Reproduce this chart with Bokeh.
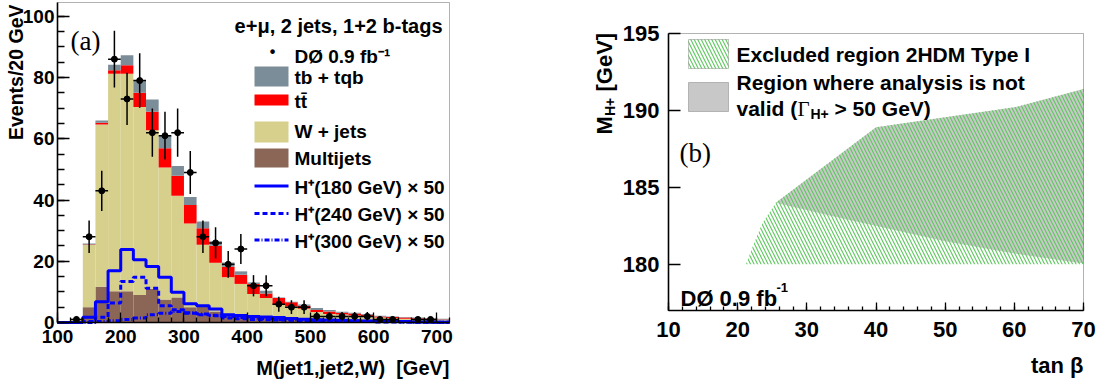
import numpy as np
from math import pi
from bokeh.plotting import figure
from bokeh.layouts import row
from bokeh.models import Label, BoxAnnotation, Arrow, SingleIntervalTicker, Range1d
from bokeh.embed import file_html
from bokeh.resources import INLINE

# ---------------- Panel (a) data ----------------
bin_edges = list(range(100, 740, 20))          # 100 ... 720 GeV, 20 GeV bins
multijets = [0, 0.5, 5.0, 11.7, 10.2, 10.2, 9.0, 11.0, 7.5, 8.2, 5.0, 5.5, 3.6, 2.5, 2.5, 2.0,
             1.8, 1.5, 1.2, 1.0, 0.8, 0.7, 0.6, 0.5, 0.4, 0.3, 0.3, 0.2, 0.2, 0.2, 0.1]
wjets = [0, 0.5, 20.3, 53.0, 71.0, 71.0, 61.4, 51.8, 43.1, 33.2, 27.3, 19.9, 15.9, 12.3, 10.1, 7.3,
         6.2, 4.4, 4.0, 3.5, 2.6, 2.1, 2.0, 1.8, 1.6, 1.3, 1.1, 1.0, 0.8, 0.7, 0.7]
ttbar = [0, 0, 0.2, 0.5, 1.2, 2.8, 4.6, 6.0, 6.3, 6.5, 6.1, 5.4, 5.6, 3.4, 3.0, 3.3,
         1.5, 2.1, 1.4, 1.0, 0.7, 0.8, 0.6, 0.6, 0.5, 0.4, 0.4, 0.4, 0.4, 0.3, 0.2]
tb_tqb = [0, 0.1, 0.3, 0.8, 1.8, 3.3, 4.0, 4.0, 4.0, 3.2, 2.6, 2.2, 1.4, 1.4, 1.1, 0.5,
          0.9, 0.2, 0.2, 0.4, 0.6, 0.5, 0.3, 0.3, 0.3, 0.2, 0.2, 0.2, 0.2, 0.2, 0.2]
data_counts = [0, 1, 28, 43, 86, 73, 79, 62, 61, 62, 49, 28, 26, 19, 24, 12,
               12, 6, 5, 5, 2, 2, 2, 2, 2, 1, 1, 0, 1, 1, 0]
hplus_180 = [0, 0, 1.7, 6.8, 16.9, 23.8, 20.5, 18.3, 14.8, 9.9, 6.1, 5.5, 4.4, 2.5, 2.3, 2.0,
             1.8, 1.6, 1.3, 1.1, 0.9, 0.8, 0.7, 0.6, 0.5, 0.4, 0.3, 0.3, 0.2, 0.2, 0.1]
hplus_240 = [0, 0, 0.3, 1.7, 6.4, 13.4, 14.8, 11.2, 5.5, 4.2, 3.0, 2.5, 2.2, 1.5, 1.2, 1.0,
             0.9, 0.8, 0.7, 0.6, 0.5, 0.4, 0.4, 0.3, 0.3, 0.2, 0.2, 0.2, 0.1, 0.1, 0.1]
hplus_300 = [0, 0, 0, 0.3, 0.6, 1.0, 1.5, 2.5, 3.0, 3.6, 3.2, 2.8, 2.4, 2.0, 1.6, 1.4,
             1.2, 1.0, 0.9, 0.8, 0.7, 0.6, 0.5, 0.5, 0.4, 0.3, 0.3, 0.2, 0.2, 0.2, 0.1]

# ---------------- Panel (b) data ----------------
excl_tanb = [21.2, 22.3, 23.6, 25.5, 40, 60, 70, 70]
excl_mh = [180.0, 181.3, 182.7, 184.0, 188.9, 190.2, 191.4, 180.0]
inval_tanb = [25.5, 40, 60, 70, 70, 60, 50, 35]
inval_mh = [184.0, 188.9, 190.2, 191.4, 180.05, 180.7, 181.5, 183.0]

C_TB = "#7b8d98"
C_TT = "#ff0000"
C_W = "#d6d08c"
C_MJ = "#8b6656"
C_H = "#0000ff"
C_HATCH = "#5cc85c"
C_GRAY = "#c8c8c8"
SANS = "Liberation Sans"
SERIF = "Liberation Serif"


def lin(va, pa, vb, pb, px):
    """value at page pixel px for a linear axis with va at pa and vb at pb"""
    return va + (px - pa) * (vb - va) / (pb - pa)


def style_axes(p, size):
    for ax in (p.xaxis[0], p.yaxis[0]):
        ax.major_label_text_font = SANS
        ax.major_label_text_font_style = "bold"
        ax.major_label_text_font_size = size
        ax.major_label_text_color = "black"
        ax.axis_line_color = "black"
        ax.axis_line_width = 1.6
        ax.major_tick_line_color = "black"
        ax.minor_tick_line_color = "black"
        ax.major_tick_line_width = 1.3
        ax.minor_tick_line_width = 1.3
        ax.major_tick_out = 0
        ax.minor_tick_out = 0
    p.xgrid.visible = False
    p.ygrid.visible = False
    p.outline_line_color = None
    p.background_fill_color = "white"
    p.border_fill_color = "white"


def make_label(p, FL, FB, X, Y, text, size, font=SANS, style="bold", align="left",
               baseline="middle", angle=0.0):
    p.add_layout(Label(x=X - FL, y=FB - Y, x_units="screen", y_units="screen", text=text,
                       text_font=font, text_font_size=f"{size}px", text_font_style=style,
                       text_align=align, text_baseline=baseline, angle=angle,
                       text_color="black"))


def make_box(p, FL, FB, X0, X1, Y0, Y1, **kw):
    p.add_layout(BoxAnnotation(left=X0 - FL, right=X1 - FL, top=FB - Y0, bottom=FB - Y1,
                               left_units="screen", right_units="screen",
                               top_units="screen", bottom_units="screen", **kw))


def make_line(p, FL, FB, X0, X1, Y, dash):
    p.add_layout(Arrow(x_start=X0 - FL, y_start=FB - Y, x_end=X1 - FL, y_end=FB - Y,
                       start_units="screen", end_units="screen", start=None, end=None,
                       line_color=C_H, line_width=3, line_dash=dash))


# ================= Panel (a) =================
# frame covers page x 0..468, y 1..381 ; axes drawn at fixed locations
FL1, FR1, FT1, FB1 = 0, 468, 1, 381
xr1 = Range1d(lin(100, 65, 720, 457, FL1), lin(100, 65, 720, 457, FR1))
yr1 = Range1d(lin(0, 322, 104.5, 2, FB1), lin(0, 322, 104.5, 2, FT1))
p1 = figure(width=470, height=381, output_backend="svg", toolbar_location=None,
            x_range=xr1, y_range=yr1,
            min_border_left=FL1, min_border_right=470 - FR1, min_border_top=FT1,
            min_border_bottom=381 - FB1)
style_axes(p1, "19px")
p1.xaxis.ticker = SingleIntervalTicker(interval=100, num_minor_ticks=5)
p1.yaxis.ticker = SingleIntervalTicker(interval=20, num_minor_ticks=4)
p1.xaxis.fixed_location = 0
p1.yaxis.fixed_location = 100
p1.xaxis.bounds = (100, 720)
p1.yaxis.bounds = (0, 104.5)
p1.yaxis.major_tick_in = 12
p1.yaxis.minor_tick_in = 7
p1.xaxis.major_tick_in = 10
p1.xaxis.minor_tick_in = 5
p1.yaxis.major_label_standoff = 3
p1.xaxis.major_label_standoff = 7

edges = np.array(bin_edges, dtype=float)
lo, hi = edges[:-1], edges[1:]
centers = 0.5 * (lo + hi)
c1 = np.array(multijets)
c2 = c1 + np.array(wjets)
c3 = c2 + np.array(ttbar)
c4 = c3 + np.array(tb_tqb)
zero = np.zeros_like(c1)
p1.quad(left=lo, right=hi, bottom=zero, top=c1, fill_color=C_MJ, line_color=None)
p1.quad(left=lo, right=hi, bottom=c1, top=c2, fill_color=C_W, line_color=None)
p1.quad(left=lo, right=hi, bottom=c2, top=c3, fill_color=C_TT, line_color=None)
p1.quad(left=lo, right=hi, bottom=c3, top=c4, fill_color=C_TB, line_color=None)

for vals, dash in ((hplus_300, "5 2 1 2"), (hplus_240, "5 3"), (hplus_180, "solid")):
    p1.step(x=edges, y=list(vals) + [vals[-1]], mode="after", line_color=C_H,
            line_width=3, line_dash=dash)

cnt = np.array(data_counts, dtype=float)
m = cnt > 0
xs, ys = centers[m], cnt[m]
err = np.sqrt(ys)
p1.segment(x0=xs, y0=ys - err, x1=xs, y1=ys + err, line_color="black", line_width=1.5)
p1.segment(x0=lo[m], y0=ys, x1=hi[m], y1=ys, line_color="black", line_width=1.5)
p1.scatter(xs, ys, size=6, color="black")

# plot box of panel (a)
p1.add_layout(BoxAnnotation(left=100, right=720, bottom=0, top=104.5, fill_alpha=0,
                            line_color="black", line_width=1))

# axis titles and texts
make_label(p1, FL1, FB1, 23, 4, "Events/20 GeV", 19.5, align="right", baseline="alphabetic", angle=pi / 2)
make_label(p1, FL1, FB1, 457, 367, "M(jet1,jet2,W) \u00a0[GeV]", 20, align="right", baseline="alphabetic")
make_label(p1, FL1, FB1, 78, 40, "(a)", 27, font=SERIF, style="normal", baseline="alphabetic")
make_label(p1, FL1, FB1, 450, 25, "e+\u03bc, 2 jets, 1+2 b-tags", 20, align="right", baseline="alphabetic")

# legend
make_label(p1, FL1, FB1, 280, 51, "\u2022", 16, align="center")
make_label(p1, FL1, FB1, 302, 56, "D\u00d8 0.9 fb\u207b\u00b9", 19)
make_box(p1, FL1, FB1, 262, 296, 66, 86, fill_color=C_TB, fill_alpha=1, line_color=None)
make_label(p1, FL1, FB1, 302, 77, "tb + tqb", 19)
make_box(p1, FL1, FB1, 262, 296, 94, 105, fill_color=C_TT, fill_alpha=1, line_color=None)
make_label(p1, FL1, FB1, 302, 101, "tt\u0304", 19)
make_box(p1, FL1, FB1, 262, 296, 121, 142, fill_color=C_W, fill_alpha=1, line_color=None)
make_label(p1, FL1, FB1, 302, 131, "W + jets", 19)
make_box(p1, FL1, FB1, 262, 296, 148, 167, fill_color=C_MJ, fill_alpha=1, line_color=None)
make_label(p1, FL1, FB1, 302, 157.5, "Multijets", 19)
make_line(p1, FL1, FB1, 262, 296, 185.5, "solid")
make_label(p1, FL1, FB1, 302, 187, "H\u207a(180 GeV) \u00d7 50", 19)
make_line(p1, FL1, FB1, 262, 296, 213, "5 3")
make_label(p1, FL1, FB1, 302, 214, "H\u207a(240 GeV) \u00d7 50", 19)
make_line(p1, FL1, FB1, 262, 296, 239.5, "5 2 1 2")
make_label(p1, FL1, FB1, 302, 241, "H\u207a(300 GeV) \u00d7 50", 19)

# ================= Panel (b) =================
# canvas starts at page x 470; frame covers page x 585..1109, y 1..381
P2X = 470
FL2, FR2, FT2, FB2 = 585, 1109, 1, 381
xr2 = Range1d(lin(10, 676, 70, 1091, FL2), lin(10, 676, 70, 1091, FR2))
yr2 = Range1d(lin(177, 310, 195, 33, FB2), lin(177, 310, 195, 33, FT2))
p2 = figure(width=639, height=381, output_backend="svg", toolbar_location=None,
            x_range=xr2, y_range=yr2,
            min_border_left=FL2 - P2X, min_border_right=P2X + 639 - FR2, min_border_top=FT2,
            min_border_bottom=381 - FB2)
style_axes(p2, "22px")
p2.xaxis.ticker = SingleIntervalTicker(interval=10, num_minor_ticks=5)
p2.yaxis.ticker = SingleIntervalTicker(interval=5, num_minor_ticks=0)
p2.xaxis.fixed_location = 177
p2.yaxis.fixed_location = 10
p2.xaxis.bounds = (10, 70)
p2.yaxis.bounds = (177, 195)
p2.yaxis.major_tick_in = 12
p2.yaxis.minor_tick_in = 0
p2.xaxis.major_tick_in = 8
p2.xaxis.minor_tick_in = 4
p2.yaxis.major_label_standoff = 9
p2.xaxis.major_label_standoff = 11

p2.patch(inval_tanb, inval_mh, fill_color=C_GRAY, line_color=None)
p2.patch(excl_tanb, excl_mh, fill_color="white", fill_alpha=0, line_color=None,
         hatch_pattern="\\", hatch_color=C_HATCH, hatch_scale=7, hatch_weight=1.1)
p2.add_layout(BoxAnnotation(left=10, right=70, bottom=177, top=195, fill_alpha=0,
                            line_color="black", line_width=1))

make_box(p2, FL2, FB2, 696, 736, 39, 68, fill_color="white", fill_alpha=1, line_color="#444444",
         line_width=1, hatch_pattern="\\", hatch_color=C_HATCH, hatch_scale=7, hatch_weight=1.1)
make_box(p2, FL2, FB2, 696, 736, 82, 111, fill_color=C_GRAY, fill_alpha=1, line_color="#444444",
         line_width=1)
make_label(p2, FL2, FB2, 744, 54, "Excluded region 2HDM Type I", 21)
make_label(p2, FL2, FB2, 744, 82, "Region where analysis is not", 21)
make_label(p2, FL2, FB2, 744, 108, "valid (", 21)
make_label(p2, FL2, FB2, 805, 108, "\u0393", 21, font=SERIF, style="normal")
make_label(p2, FL2, FB2, 818, 113, "H+", 14)
make_label(p2, FL2, FB2, 842, 108, "> 50 GeV)", 21)
make_label(p2, FL2, FB2, 687, 152, "(b)", 27, font=SERIF, style="normal", baseline="alphabetic")
make_label(p2, FL2, FB2, 688, 298, "D\u00d8 0.9 fb", 22, baseline="alphabetic")
make_label(p2, FL2, FB2, 784, 287, "-1", 13, baseline="alphabetic")
make_label(p2, FL2, FB2, 1091, 365, "tan \u03b2", 22, align="right", baseline="alphabetic")
# rotated y title: M_{H+} [GeV]
make_label(p2, FL2, FB2, 612, 134, "M", 22, baseline="alphabetic", angle=pi / 2)
make_label(p2, FL2, FB2, 617, 115.5, "H+", 14, baseline="alphabetic", angle=pi / 2)
make_label(p2, FL2, FB2, 612, 91, "[GeV]", 22, baseline="alphabetic", angle=pi / 2)

layout = row(p1, p2, margin=(0, 0, -8, -8))
open("out.html", "w").write(file_html(layout, INLINE))
